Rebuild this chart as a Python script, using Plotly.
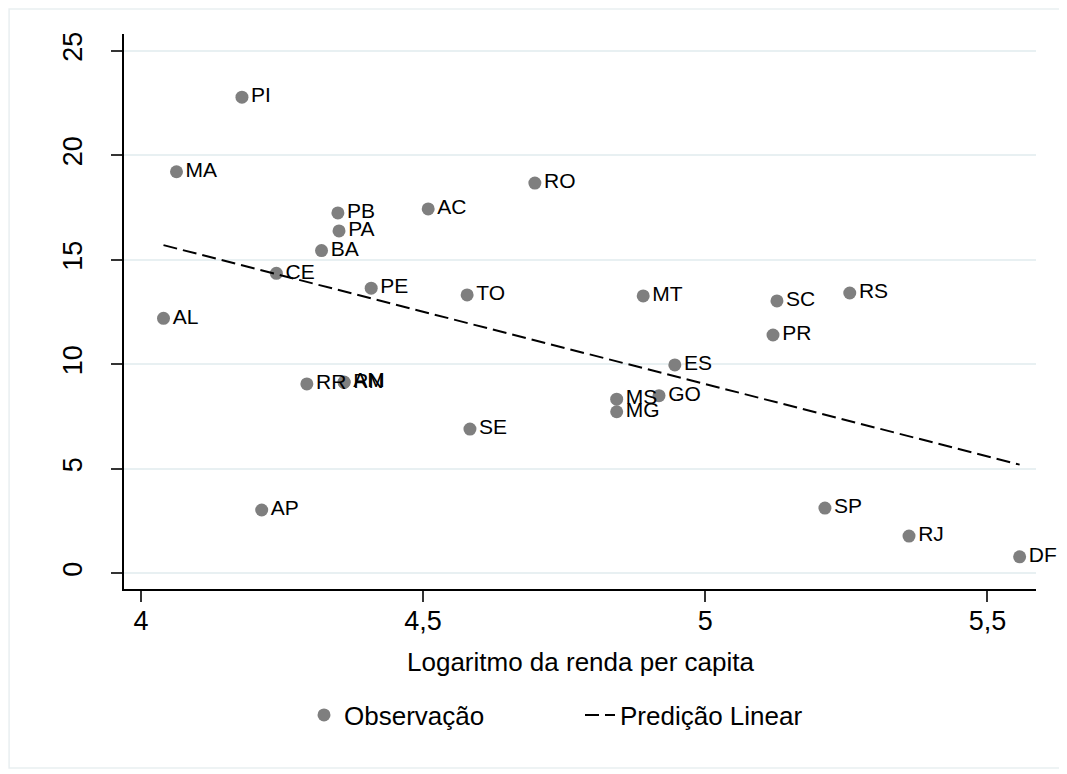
import plotly.graph_objects as go

# --- data ---
states = ["PI", "MA", "AL", "CE", "BA", "PB", "PA", "AC", "RO", "PE", "TO", "MT", "SC", "RS",
          "PR", "ES", "GO", "MS", "MG", "SE", "RR", "AM", "RN", "AP", "SP", "RJ", "DF"]
log_income = [4.179, 4.063, 4.040, 4.240, 4.320, 4.349, 4.351, 4.509, 4.698, 4.408, 4.578, 4.890,
              5.127, 5.256, 5.120, 4.946, 4.918, 4.843, 4.843, 4.583, 4.294, 4.360, 4.360,
              4.214, 5.212, 5.361, 5.557]
values = [22.78, 19.21, 12.20, 14.35, 15.44, 17.24, 16.38, 17.43, 18.67, 13.64, 13.32, 13.27,
          13.03, 13.41, 11.40, 9.97, 8.50, 8.33, 7.73, 6.90, 9.06, 9.15, 9.13,
          3.03, 3.12, 1.78, 0.79]

fit_x = [4.040, 5.557]
fit_y = [15.70, 5.20]

x_tickvals = [4, 4.5, 5, 5.5]
x_ticktext = ["4", "4,5", "5", "5,5"]
y_tickvals = [0, 5, 10, 15, 20, 25]
y_ticktext = ["0", "5", "10", "15", "20", "25"]

FONT = "Liberation Sans, Arial, sans-serif"
MARKER_COLOR = "#7f7f7f"

fig = go.Figure()

fig.add_trace(go.Scatter(
    x=log_income, y=values, text=states, mode="markers+text",
    textposition="middle right", cliponaxis=False,
    textfont=dict(family=FONT, size=21, color="black"),
    marker=dict(color=MARKER_COLOR, size=13),
    showlegend=False, hoverinfo="x+y+text",
))

fig.add_trace(go.Scatter(
    x=[None], y=[None], mode="markers", name="Observação",
    marker=dict(color=MARKER_COLOR, size=13),
))

fig.add_trace(go.Scatter(
    x=fit_x, y=fit_y, mode="lines", name="Predição Linear",
    line=dict(color="black", width=2, dash="14px,6px"),
))

# the page body adds an 8px offset at top-left, so the figure is 8px smaller
# and only the left/top margins compensate
fig.update_layout(
    width=1059, height=766,
    margin=dict(l=116, r=31, t=26, b=185),
    paper_bgcolor="white", plot_bgcolor="white",
    font=dict(family=FONT, size=20, color="black"),
    legend=dict(orientation="h", x=0.5, xanchor="center", y=-0.227, yanchor="middle",
                font=dict(family=FONT, size=26, color="black"), itemwidth=30,
                entrywidth=231, entrywidthmode="pixels"),
    annotations=[dict(text="Logaritmo da renda per capita", xref="paper", yref="paper",
                      x=0.5, y=-0.1315, xanchor="center", yanchor="middle", showarrow=False,
                      font=dict(family=FONT, size=26, color="black"))],
    shapes=[dict(type="rect", xref="paper", yref="paper", x0=-0.126, x1=1.0296,
                 y0=-0.3225, y1=1.045, line=dict(color="#e9eff1", width=1.5), layer="below")],
)

fig.update_xaxes(
    range=[3.970, 5.586], tickvals=x_tickvals, ticktext=x_ticktext,
    showgrid=False, zeroline=False, showline=True, linecolor="black", linewidth=1.5,
    ticks="outside", ticklen=11, tickwidth=1.5, tickcolor="#333333",
    tickfont=dict(family=FONT, size=27, color="black"), ticklabelstandoff=-4,
)
fig.update_yaxes(
    range=[-0.75, 25.8], tickvals=y_tickvals, ticktext=y_ticktext, tickangle=-90,
    showgrid=True, gridcolor="#e8f0f2", gridwidth=1.5,
    zeroline=False, showline=True, linecolor="black", linewidth=1.5,
    ticks="outside", ticklen=11, tickwidth=1.5, tickcolor="#333333",
    tickfont=dict(family=FONT, size=27, color="black"), ticklabelstandoff=18,
)

fig.write_html("out.html")
